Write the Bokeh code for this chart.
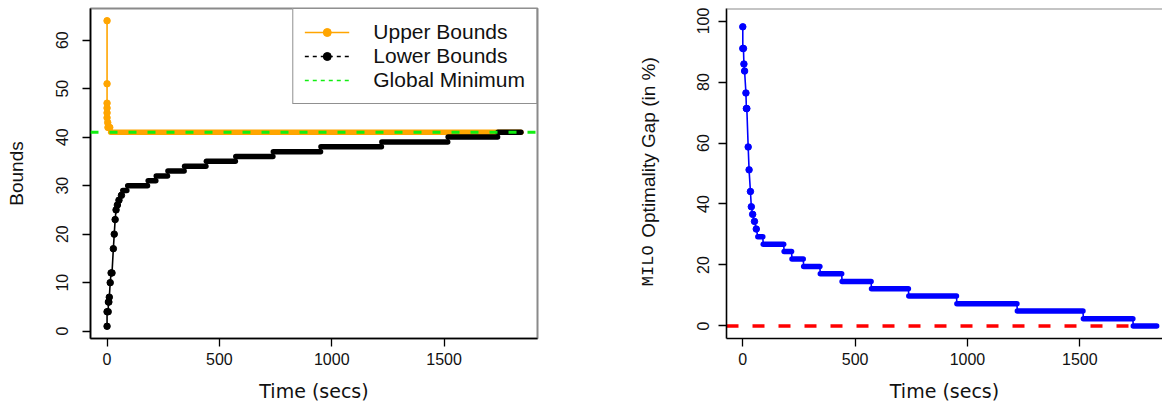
import math
from bokeh.plotting import figure
from bokeh.layouts import row
from bokeh.models import Range1d, FixedTicker, Legend, LegendItem, Span
from bokeh.core.properties import value
from bokeh.embed import file_html
from bokeh.resources import INLINE

# ---------------- data ----------------
# Left panel: upper bounds, early points then plateau
ub_t = [0, 0, 0, 0, 0, 0, 3, 4, 12]
ub_v = [64, 51, 47, 46, 45, 44, 43, 42, 42]
ub_starts = [16]
ub_ends = [1842]
ub_levels = [41]

# Left panel: lower bounds, early points then plateaus
lb_t = [0, 0, 5, 6, 8, 10, 14, 18, 22, 28, 32, 36, 40, 46, 53, 64]
lb_v = [1, 4, 4, 6, 6, 7, 10, 12, 12, 17, 20, 23, 25, 26, 27, 28]
lb_levels = [29, 30, 31, 32, 33, 34, 35, 36, 37, 38, 39, 40, 41]
lb_starts = [70, 92, 183, 219, 271, 345, 442, 573, 740, 952, 1223, 1518, 1740]
lb_ends = [88, 180, 217, 269, 343, 440, 571, 738, 950, 1221, 1516, 1738, 1842]

global_min = 41

# Right panel: optimality gap (%)
gap_t = [0, 0, 3, 5, 8, 14, 16, 18, 24, 28, 34, 38, 44, 52, 60]
gap_v = [98.1, 91.0, 91.0, 85.9, 83.6, 76.4, 71.3, 71.3, 58.7, 51.2, 44.1, 39.1, 36.6, 34.3, 31.8]
gap_levels = [29.3, 26.8, 24.4, 22.0, 19.5, 17.1, 14.6, 12.2, 9.8, 7.3, 4.9, 2.4, 0.0]
gap_starts = [67, 91, 184, 219, 271, 345, 442, 573, 739, 953, 1222, 1516, 1738]
gap_ends = [89, 182, 217, 269, 343, 440, 571, 737, 951, 1220, 1514, 1736, 1842]

x_ticks = [0, 500, 1000, 1500]
left_y_ticks = [0, 10, 20, 30, 40, 50, 60]
right_y_ticks = [0, 20, 40, 60, 80, 100]

# ---------------- styling ----------------
ORANGE = "#FFA500"
BLACK = "#000000"
GREEN = "#11EE11"
BLUE = "#0000FF"
RED = "#FF0000"
FRAME_GRAY = "#8a8a8a"
TICK_FONT = "Liberation Sans"
NAN = float("nan")
H = 404
TOP = 8
BOTTOM = 62


def path(early_t, early_v, starts, ends, levels):
    xs = list(early_t)
    ys = list(early_v)
    for s, e, v in zip(starts, ends, levels):
        xs += [s, e]
        ys += [v, v]
    return xs, ys


def style_axes(p, yticks, ystandoff):
    p.grid.visible = False
    for ax in (p.xaxis[0], p.yaxis[0]):
        ax.axis_line_color = BLACK
        ax.axis_line_width = 1.6
        ax.major_tick_line_color = BLACK
        ax.major_tick_line_width = 1.3
        ax.major_tick_in = 0
        ax.major_tick_out = 8
        ax.minor_tick_line_color = None
        ax.major_label_text_font = TICK_FONT
        ax.major_label_text_font_size = "16px"
        ax.major_label_text_color = "#111111"
    p.xaxis[0].ticker = FixedTicker(ticks=x_ticks)
    p.yaxis[0].ticker = FixedTicker(ticks=yticks)
    p.yaxis[0].major_label_orientation = "vertical"
    p.yaxis[0].major_label_standoff = ystandoff
    p.xaxis[0].major_label_standoff = 6
    p.xaxis[0].axis_label = "Time (secs)"
    p.xaxis[0].axis_label_text_font = "DejaVu Sans"
    p.xaxis[0].axis_label_text_font_size = "19px"
    p.xaxis[0].axis_label_text_font_style = "normal"
    p.xaxis[0].axis_label_standoff = 12
    p.xaxis[0].axis_label_text_color = "#111111"


def draw_series(p, t, v, starts, ends, levels, color):
    xs, ys = path(t, v, starts, ends, levels)
    p.line(xs, ys, line_color=color, line_width=1.6)
    p.segment(x0=starts, y0=levels, x1=ends, y1=levels, line_color=color,
              line_width=5.5, line_cap="round")
    p.scatter(t, v, marker="circle", size=6.5, fill_color=color, line_color=color)


# ---------------- left figure ----------------
p1 = figure(width=600, height=H, output_backend="svg", toolbar_location=None,
            x_range=Range1d(-73.7, 1915.7), y_range=Range1d(-1.52, 66.52),
            min_border_left=90, min_border_right=63, min_border_top=TOP, min_border_bottom=BOTTOM)
p1.outline_line_color = FRAME_GRAY
p1.outline_line_width = 2
style_axes(p1, left_y_ticks, 14)
p1.yaxis[0].axis_label = "Bounds"
p1.yaxis[0].axis_label_text_font = TICK_FONT
p1.yaxis[0].axis_label_text_font_size = "19px"
p1.yaxis[0].axis_label_text_font_style = "normal"
p1.yaxis[0].axis_label_standoff = 27
p1.yaxis[0].axis_label_text_color = "#111111"

draw_series(p1, ub_t, ub_v, ub_starts, ub_ends, ub_levels, ORANGE)
draw_series(p1, lb_t, lb_v, lb_starts, lb_ends, lb_levels, BLACK)
p1.add_layout(Span(location=global_min, dimension="width", line_color=GREEN,
                   line_width=3, line_dash="8 11"))

# legend proxies
ub_l = p1.line([NAN], [NAN], line_color=ORANGE, line_width=1.3)
ub_d = p1.scatter([NAN], [NAN], marker="circle", size=9, fill_color=ORANGE, line_color=ORANGE)
lb_l = p1.line([NAN], [NAN], line_color=BLACK, line_width=1.3, line_dash="4 4")
lb_d = p1.scatter([NAN], [NAN], marker="circle", size=9, fill_color=BLACK, line_color=BLACK)
gm_l = p1.line([NAN], [NAN], line_color=GREEN, line_width=1.6, line_dash="4 4")
legend = Legend(items=[LegendItem(label="Upper Bounds", renderers=[ub_l, ub_d]),
                       LegendItem(label="Lower Bounds", renderers=[lb_l, lb_d]),
                       LegendItem(label="Global Minimum", renderers=[gm_l])],
                location="top_right", margin=0, padding=11, spacing=0,
                glyph_width=45, glyph_height=20, label_height=20, label_standoff=24,
                label_text_font=TICK_FONT, label_text_font_size="21px",
                label_text_color="#111111",
                border_line_color="#222222", border_line_width=1.3,
                background_fill_color="white", background_fill_alpha=1.0)
p1.add_layout(legend)

# ---------------- spacer figure holding the right panel's y-axis title ----------------
# its frame shares the same vertical extent as the panels; y is "page pixels from the bottom"
TW = 70
pt = figure(width=TW, height=H, output_backend="svg", toolbar_location=None,
            x_range=Range1d(0, TW), y_range=Range1d(BOTTOM, H - TOP),
            x_axis_type=None, y_axis_type=None,
            min_border_left=0, min_border_right=0, min_border_top=TOP, min_border_bottom=BOTTOM)
pt.outline_line_color = None
pt.grid.visible = False
pt.text(x=[48], y=[H - 289], text=["MILO"], angle=math.pi / 2,
        text_align="left", text_baseline="middle",
        text_font=value("Liberation Mono"), text_font_size="17px", text_color="#111111")
pt.text(x=[48], y=[H - 240], text=["Optimality Gap (in %)"], angle=math.pi / 2,
        text_align="left", text_baseline="middle",
        text_font=value(TICK_FONT), text_font_size="19px", text_color="#111111")

# ---------------- right figure ----------------
p2 = figure(width=1162 - 600 - TW, height=H, output_backend="svg", toolbar_location=None,
            x_range=Range1d(-72.5, 1868), y_range=Range1d(-4.1, 104.1),
            min_border_left=126 - TW, min_border_right=0, min_border_top=TOP, min_border_bottom=BOTTOM)
p2.outline_line_color = None
style_axes(p2, right_y_ticks, 9)
p2.add_layout(Span(location=104.1, dimension="width", line_color=FRAME_GRAY, line_width=2))
p2.add_layout(Span(location=0, dimension="width", line_color=RED, line_width=3.5,
                   line_dash="12 14", level="underlay"))
draw_series(p2, gap_t, gap_v, gap_starts, gap_ends, gap_levels, BLUE)

layout = row(p1, pt, p2)
open("out.html", "w").write(file_html(layout, INLINE))
